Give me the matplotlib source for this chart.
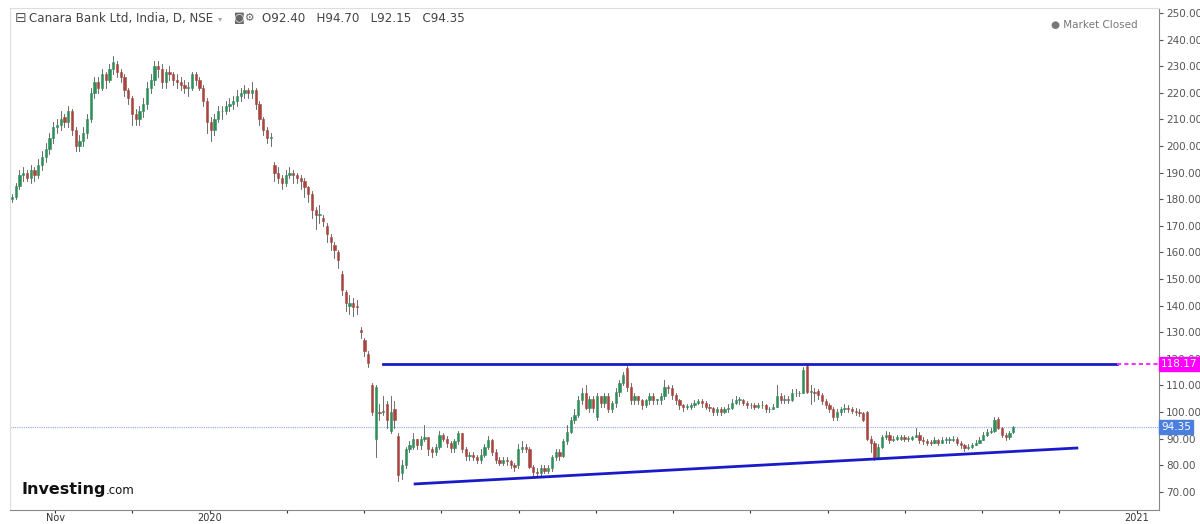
import matplotlib
matplotlib.use("Agg")
import matplotlib.pyplot as plt
from matplotlib.patches import Rectangle

opens = [180,181,185,189,190,188,191, 189,193,196,199,203,207,208,211,209, 213,206,200,202,205, 210,220,224,222,227,225,229,
 231,228,226,221,218,212,210,213,216,222, 225,230,229,224,228,227,225,224,223,222,222,227,225,222,
 217,209,206,210,213,213,215,216,217,219,220,221,220, 221,216,210,206,203,
 193,190,188,186,189,190,189,188,187,184.5,182,176,174,173,170,166,163,160,152,145,140,141,140,131,127,122,
 110,90,100,100,103,93,101,91,
 77,80,86,87,90,87.5,90,90.5,86,85, 87,91.5,90,88.5,86.5,89,92,86,83.5,84, 83,82,84,87,89.5,85,82,81,82,81.5,
 80,80,86,87,86,79.5,77.5,77,79,78, 79,83,85,83.5,89,92.5,97,99,104.5,107, 101.5,105,98,106,103.5,106,101,103.5,107.5,111,
 116.5,109.5,104.5,106,104.5,102.5,104.5,106,104.5,104.5, 106,109.5,109,106.5,104.5,102.5,102,102,102.5,103.5, 104,103.5,102,
 101.5,100,101,100,101,101.5,103.5,104.5,104.5,103.5, 102.5,102.5,102,102.5,102.5,101,101,102,106,104.5,
 105,104.5,107,107,107,117.5,107.5,107.5,108,106.5, 104,102.5,101,98,100,101,101.5,101,100.5,100,
 99.5,100,90,88.5,83,87,90.5,91.5,89.5,90, 90,90.5,90,90,90.5,91.5,89.5,89,88.5,88.3,
 89.5,88.5,89.5,89.5,89.5,90,88.3,87.5,86.5,87, 87.5,88.5,89.5,91.5,92.5,93,97.5,94,91.5,90.5, 92.4]
highs = [182,186,191,192,191,193,192, 195,198,201,205,209,210,213,212,215, 214,207,204,207,212, 222,226,226,229,228,231,234,
 232,229,227,222,219,214,215,218,224,227, 232,232,231,229,230,228,227,226,225,224,228,228,226,223,
 218,211,212,215,215,217,218,219,221,222,223,222,224, 222,217,211,207,205,
 194,192,189,191,192,191,190,189,188,185,183,177,178,174,171,167,164,161,153,146,144,143,142,132,128,123,
 111,110,103,106,104,106,104,92,
 82,87,89,92,90,91,95,90,87,88, 93,92,91,89,90,93,92,87,85,85, 84,86,88,91,90,86,83,83,83,82,
 81,88,89,88,87,80,79,80,80,80, 84,86,86,90,95,98,101,106,109,110, 106,106,107,106,107,107,104,109,112,115,
 118,111,107,106,105,105,107,107,105,107, 112,110,110,107,105,103,103,103.5,104.5,105, 105,104,103,
 102,102,102,102,103,105,106,105.5,105,104, 103.5,103.5,103.5,104,103,102,103,110,107,106.5,
 106,108.5,108.5,108,117,118.17,110,109,108.5,107, 105,103.5,102,101,102,103,102.5,102,101.5,101,
 100,100.5,91,89,88,91.5,93,92.5,91,91.5, 91.5,91.5,91,91,94,92.5,90.5,90,89.5,90.5,
 90,90.5,90.5,90.5,91,90.5,89,88,88,88.5, 89.5,90.5,92.5,93.5,94,98,98,94.5,92,93, 94.7]
lows = [179,180,184,187,187,186,187, 188,191,194,197,201,205,206,207,207, 204,198,198,200,203, 209,218,220,221,222,224,227,
 226,224,219,216,208,208,208,211,214,220, 223,226,222,222,225,223,222,221,220,219,221,223,221,215,
 205,202,204,209,210,212,213,214,215,217,218,218,218, 214,208,204,201,200,
 187,186,184,185,188,186,186,184,181,179,173,169,171,170,164,161,158,154,144,138,137,136,137,128,121,117,
 99,83,97,99,94,92,94,74,
 75,79,85,86,86,86,89,84,83,84, 86,89,87,85,85,88,85,82,82,82, 81,81,83,86,84,81,80,80,80,79,
 78,79,85,85,79,76,76,76,77,77, 78,82,82,83,88,92,96,98,103,101, 100,100,97,102,102,100,100,102,106,110,
 108,103,103,103,101,102,103,103,103,103, 105,107,105,103,101,100.5,101,101,102,103, 102,101,100.5,
 99,99,99,99.5,100,101,103,103,102.5,101.5, 101.5,101,101.5,101.5,100,100,101,102,103.5,103.5,
 103.5,104,106,106,107,107,103,104,105,103, 101.5,100,97,97,99,100,100,99.5,99,98.5,
 96.5,89.5,85,82,82.5,86.5,90,88.5,89,89.5, 89.5,89,89,89.5,90.5,88.5,88,87.5,87.5,88.5,
 87.5,88.5,88.5,88.5,89,87.5,86.5,85.5,86,86.5, 87.5,88.5,89.5,91,92,92.5,93.5,90.5,89.5,90, 92.15]
closes = [181,185,189,190,188,191,189, 193,196,199,203,207,208,210,209,213, 206,200,202,205,210, 220,224,222,227,225,229,231.5,
 228,226,221,218,212,210,213,216,222,225, 230,229,224,228,227,225,224,223,222,222,227,225,222,217,
 209,206,210,213,213,215,216,217,219,220,221,220,221, 216,210,206,203,203,
 190,188,186,189,190,189,188,187,184.5,182,176,174,174,172,167,164,161,157,146,141,141,139.5,139.5,130,123,118.5,
 100,109.5,99.5,100.5,97,100,97,76.5,
 80,86,87.5,90,87.5,90,90.5,86,85,87, 91.5,90,88.5,86.5,89,92,86,83.5,84,83, 82,84,87,89.5,85,82,81,82,81.5,80,
 79.5,86,87,86,79.5,77.5,77,79,78,79, 83,85,83.5,89,92.5,97,99,104.5,107,101.5, 105,101.5,106,103.5,106,101,103.5,107.5,111,114,
 109.5,104.5,106,104.5,102.5,104.5,106,104.5,104.5,106, 109.5,109,106.5,104.5,102.5,102,102,102.5,103.5,104, 103.5,102,101.5,
 100,101,100,101,101.5,103.5,104.5,104.5,103.5,102.5, 102.5,102,102.5,102.5,101,101,102,106,104.5,105,
 104.5,107,107,107,116,107.5,107.5,107,106.5,104, 102.5,101,98,100,101,101.5,101,100.5,100,99.5,
 97,90,88.5,83,87,90.5,91.5,89.5,90,90.5, 90.5,90,90,90.5,91.5,89.5,89,88.5,88.3,89.5,
 88.5,89.5,89.5,89.5,90,88.3,87.5,86.5,87,87.5, 88.5,89.5,91.5,92.5,93,97,94,91.5,90.5,92.3, 94.35]

month_labels = ["Nov", "", "2020", "", "", "", "", "", "", "", "", "", "", "", "2021"]
resistance = 118.17
last_price = 94.35
support_start = (107.5, 73.0)
support_end = (284.0, 86.5)

n = min(len(opens), len(highs), len(lows), len(closes))
fig = plt.figure(figsize=(12, 5.24), dpi=100)
ax = fig.add_axes([10/1200, 14/524, 1149/1200, 502/524])
ax.set_xlim(-0.53, 305.9)
ax.set_ylim(63.2, 251.9)

green, red = "#2f8f5b", "#a8453e"
for i in range(n):
    o, h, l, c = opens[i], highs[i], lows[i], closes[i]
    col = green if c >= o else red
    ax.plot([i, i], [l, h], color="#555555", lw=0.6, zorder=2)
    ax.add_patch(Rectangle((i - 0.3, min(o, c)), 0.6, max(abs(c - o), 0.3),
                           facecolor=col, edgecolor=col, lw=0.4, zorder=3))

ax.axhline(last_price, color="#8fa8e8", lw=0.8, ls=(0, (1, 1)), zorder=1)
ax.plot([99, 294.7], [resistance, resistance], color="#1a1ac8", lw=2, zorder=4)
ax.plot([294.7, 305.9], [resistance, resistance], color="#ff33ff", lw=1.5, ls=(0, (2, 1.5)), zorder=4)
ax.plot([support_start[0], support_end[0]], [support_start[1], support_end[1]], color="#1a1ac8", lw=2, zorder=4)

ax.yaxis.tick_right()
ax.set_yticks(range(70, 251, 10))
ax.set_yticklabels([f"{v:.2f}" for v in range(70, 251, 10)])
ax.tick_params(axis="y", labelsize=7.5, colors="#555555", length=3, pad=2)
ax.tick_params(axis="x", labelsize=7, colors="#333333", length=2, pad=0.5)
mpos = [11.5 + k * 20.6 for k in range(len(month_labels))]
ax.set_xticks(mpos)
ax.set_xticklabels(month_labels)
for s in ["top", "left"]:
    ax.spines[s].set_color("#dddddd")
for s in ["bottom", "right"]:
    ax.spines[s].set_color("#888888")

for val, bg in [(resistance, "#ff00ff"), (last_price, "#4a7fe0")]:
    ax.text(306.5, val, f"{val:.2f}", color="white", fontsize=7.5, va="center", ha="left",
            bbox=dict(boxstyle="square,pad=0.2", fc=bg, ec=bg), zorder=6, clip_on=False)

fig.text(0.012, 0.965, "⊟", fontsize=10, color="#555555", va="center")
fig.text(0.024, 0.965, "Canara Bank Ltd, India, D, NSE", fontsize=8.6, color="#444444", va="center")
fig.text(0.182, 0.965, "▾", fontsize=6, color="#aaaaaa", va="center")
fig.text(0.195, 0.965, "◙⚙", fontsize=8, color="#666666", va="center")
fig.text(0.218, 0.965, f"O{opens[n-1]:.2f}   H{highs[n-1]:.2f}   L{lows[n-1]:.2f}   C{closes[n-1]:.2f}",
         fontsize=8.6, color="#444444", va="center")
fig.text(0.948, 0.952, "● Market Closed", fontsize=7.5, color="#777777", va="center", ha="right")
fig.text(0.018, 0.065, "Investing", fontsize=11.5, weight="bold", color="#111111", va="center")
fig.text(0.0885, 0.063, ".com", fontsize=8.5, color="#111111", va="center")

fig.savefig("out.png", dpi=100)
